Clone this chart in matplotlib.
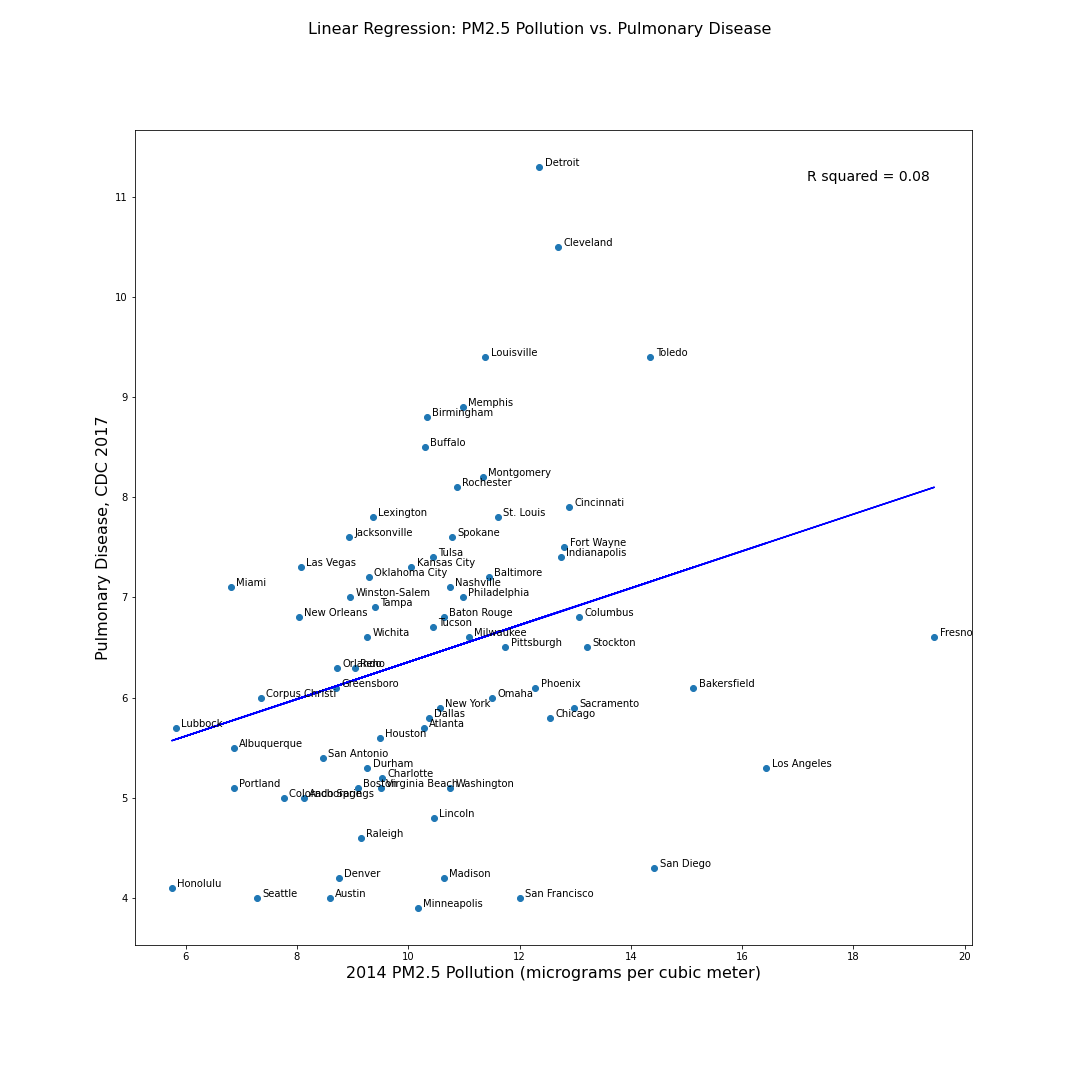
import numpy as np
import matplotlib
matplotlib.use("Agg")
import matplotlib.pyplot as plt

cities = ["Detroit", "Cleveland", "Louisville", "Toledo", "Memphis", "Birmingham", "Buffalo",
          "Montgomery", "Rochester", "Cincinnati", "Lexington", "St. Louis", "Jacksonville",
          "Spokane", "Fort Wayne", "Indianapolis", "Tulsa", "Las Vegas", "Kansas City",
          "Oklahoma City", "Baltimore", "Miami", "Nashville", "Winston-Salem", "Philadelphia",
          "Tampa", "New Orleans", "Baton Rouge", "Columbus", "Tucson", "Wichita", "Milwaukee",
          "Fresno", "Pittsburgh", "Stockton", "Orlando", "Reno", "Greensboro", "Phoenix",
          "Bakersfield", "Corpus Christi", "Omaha", "New York", "Sacramento", "Dallas",
          "Chicago", "Lubbock", "Atlanta", "Houston", "Albuquerque", "San Antonio", "Durham",
          "Los Angeles", "Charlotte", "Portland", "Boston", "Virginia Beach", "Washington",
          "Colorado Springs", "Anchorage", "Lincoln", "Raleigh", "San Diego", "Denver",
          "Madison", "Honolulu", "Seattle", "Austin", "San Francisco", "Minneapolis"]

pm25 = [12.35, 12.69, 11.38, 14.35, 10.98, 10.33, 10.30,
        11.34, 10.87, 12.89, 9.36, 11.61, 8.93,
        10.78, 12.80, 12.74, 10.44, 8.07, 10.05,
        9.29, 11.45, 6.81, 10.75, 8.95, 10.98,
        9.40, 8.03, 10.64, 13.07, 10.44, 9.26, 11.09,
        19.45, 11.74, 13.21, 8.72, 9.04, 8.70, 12.28,
        15.12, 7.35, 11.50, 10.57, 12.98, 10.37,
        12.55, 5.82, 10.28, 9.49, 6.86, 8.46, 9.26,
        16.43, 9.53, 6.86, 9.09, 9.51, 10.75,
        7.76, 8.12, 10.46, 9.15, 14.42, 8.75,
        10.64, 5.75, 7.28, 8.59, 12.00, 10.17]

pulmonary = [11.3, 10.5, 9.4, 9.4, 8.9, 8.8, 8.5,
             8.2, 8.1, 7.9, 7.8, 7.8, 7.6,
             7.6, 7.5, 7.4, 7.4, 7.3, 7.3,
             7.2, 7.2, 7.1, 7.1, 7.0, 7.0,
             6.9, 6.8, 6.8, 6.8, 6.7, 6.6, 6.6,
             6.6, 6.5, 6.5, 6.3, 6.3, 6.1, 6.1,
             6.1, 6.0, 6.0, 5.9, 5.9, 5.8,
             5.8, 5.7, 5.7, 5.6, 5.5, 5.4, 5.3,
             5.3, 5.2, 5.1, 5.1, 5.1, 5.1,
             5.0, 5.0, 4.8, 4.6, 4.3, 4.2,
             4.2, 4.1, 4.0, 4.0, 4.0, 3.9]

x = np.array(pm25)
y = np.array(pulmonary)

# regression line through the points
slope, intercept = np.polyfit(x, y, 1)
fit = slope * x + intercept

fig, ax = plt.subplots(figsize=(15, 15), dpi=72)
fig.subplots_adjust(left=0.125, right=0.9, top=0.88, bottom=0.125)

ax.scatter(x, y, color="C0")
ax.plot(x, fit, color="b")

for name, px, py in zip(cities, x, y):
    ax.annotate(name, (px, py), xytext=(5.5, 1), textcoords="offset points", fontsize=10)

ax.text(0.95, 0.9415, "R squared = 0.08", transform=ax.transAxes, fontsize=14, ha="right", va="center")

fig.suptitle("Linear Regression: PM2.5 Pollution vs. Pulmonary Disease", fontsize=16)
ax.set_xlabel("2014 PM2.5 Pollution (micrograms per cubic meter)", fontsize=16)
ax.set_ylabel("Pulmonary Disease, CDC 2017", fontsize=16)
ax.set_xlim(5.09, 20.13)
ax.set_ylim(3.53, 11.67)

fig.savefig("out.png", dpi=72)
